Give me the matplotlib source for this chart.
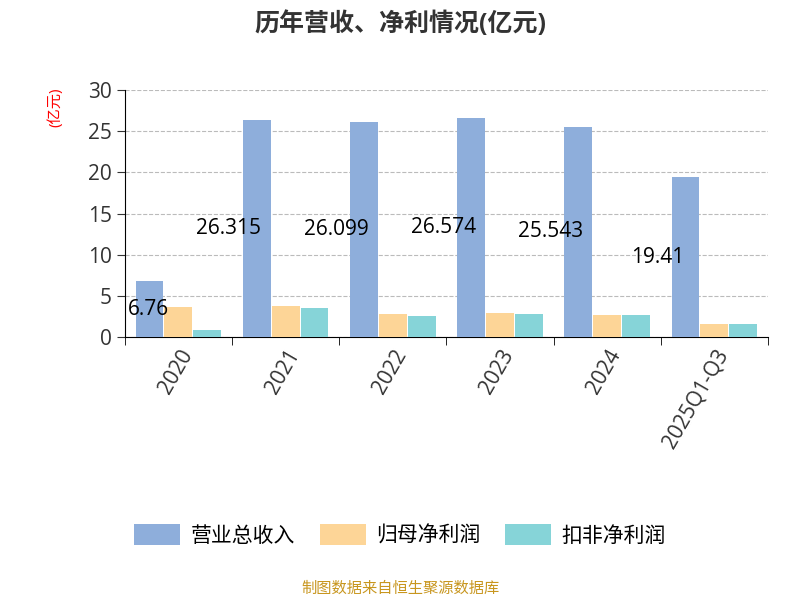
import matplotlib.pyplot as plt
import numpy as np

plt.rcParams['font.family'] = ['Open Sans', 'Noto Sans CJK SC', 'DejaVu Sans']

categories = ['2020', '2021', '2022', '2023', '2024', '2025Q1-Q3']
revenue = [6.76, 26.315, 26.099, 26.574, 25.543, 19.41]
net_profit = [3.7, 3.8, 2.8, 2.9, 2.7, 1.6]
deducted_profit = [0.9, 3.5, 2.6, 2.8, 2.7, 1.6]
series_names = ['营业总收入', '归母净利润', '扣非净利润']
colors = ['#8eaedb', '#fdd597', '#86d4d8']

fig = plt.figure(figsize=(8, 6), dpi=100, facecolor='w')
ax = fig.add_axes([0.156, 0.438, 0.804, 0.412])

x = np.arange(len(categories))
w = 0.26
gap = 0.27
ax.bar(x - gap, revenue, w, color=colors[0], label=series_names[0], zorder=3)
ax.bar(x, net_profit, w, color=colors[1], label=series_names[1], zorder=3)
ax.bar(x + gap, deducted_profit, w, color=colors[2], label=series_names[2], zorder=3)

for xi, v in zip(x, revenue):
    ax.text(max(xi - 0.53, -0.28), v / 2, '{:g}'.format(v), ha='center', va='center',
            fontsize=15, zorder=4)

ax.set_xlim(-0.5, len(categories) - 0.5)
ax.set_ylim(0, 30)
ax.set_yticks(range(0, 31, 5))
ax.set_xticks(x)
ax.set_xticklabels(categories, rotation=60, ha='right', rotation_mode='anchor', fontsize=15)
ax.set_xticks(np.arange(-0.5, len(categories)), minor=True)
ax.tick_params(axis='x', which='major', length=0, pad=6)
ax.tick_params(axis='x', which='minor', length=6)
ax.tick_params(axis='y', labelsize=15, length=6, colors='#333333')
ax.tick_params(axis='x', colors='#333333')
ax.grid(axis='y', linestyle='--', color='#bbbbbb', zorder=0)
for s in ['top', 'right']:
    ax.spines[s].set_visible(False)
ax.set_ylabel('(亿元)', color='red', fontsize=11, labelpad=0)
ax.yaxis.set_label_coords(-0.095, 0.93)

fig.text(0.5, 0.96, '历年营收、净利情况(亿元)', ha='center', va='center', fontsize=18,
         fontweight='bold', color='#333333')
fig.legend(loc='center', bbox_to_anchor=(0.5, 0.108), ncol=3, frameon=False, fontsize=15,
           handlelength=2.2, handleheight=1.2, columnspacing=1.2, handletextpad=0.5)
fig.text(0.5, 0.018, '制图数据来自恒生聚源数据库', ha='center', va='center', fontsize=11, color='#c8961e')

fig.savefig('out.png', dpi=100)
